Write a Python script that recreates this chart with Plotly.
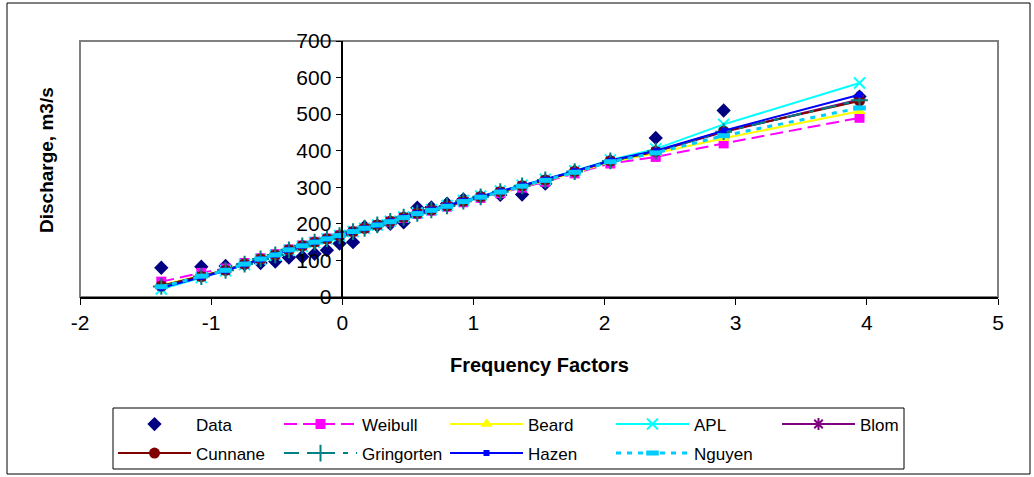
import plotly.graph_objects as go

# ---------------- data ----------------
freq_factors = [-1.38, -1.075, -0.89, -0.745, -0.623, -0.511, -0.407, -0.305, -0.211, -0.117,
                -0.021, 0.082, 0.170, 0.267, 0.366, 0.468, 0.572, 0.679, 0.799, 0.923,
                1.055, 1.205, 1.371, 1.548, 1.772, 2.044, 2.390, 2.908, 3.944]

data_q = [80, 83, 85, 90, 93, 97, 108, 110, 118, 128,
          146, 150, 192, 195, 200, 204, 244, 245, 255, 267,
          274, 279, 280, 310, 343, 372, 435, 510, 548]

weibull = [42, 66, 78, 93, 106, 117, 130, 141, 151, 160,
           169, 179, 188, 197, 206, 216, 227, 236, 247, 259,
           271, 284, 299, 315, 338, 365, 383, 420, 490]
beard = [33, 58, 74, 91, 105, 116, 129, 140, 150, 159,
         168, 179, 188, 197, 206, 217, 228, 237, 248, 261,
         273, 287, 302, 318, 340, 369, 393, 434, 508]
apl = [22, 53, 72, 89, 103, 114, 128, 139, 149, 159,
       168, 179, 188, 197, 207, 219, 230, 239, 250, 264,
       276, 290, 306, 322, 345, 375, 405, 472, 585]
blom = [30, 56, 73, 90, 104, 115, 129, 140, 150, 159,
        168, 179, 188, 197, 207, 218, 229, 238, 249, 262,
        274, 288, 304, 320, 343, 372, 398, 451, 540]
cunnane = [30, 56, 73, 90, 104, 115, 129, 140, 150, 159,
           168, 179, 188, 197, 207, 218, 229, 238, 249, 262,
           274, 288, 304, 320, 343, 372, 398, 453, 536]
gringorten = [29, 56, 73, 90, 104, 115, 129, 140, 150, 159,
              168, 179, 188, 197, 207, 218, 229, 238, 249, 262,
              274, 288, 304, 320, 343, 372, 399, 452, 538]
hazen = [25, 55, 72, 89, 103, 115, 129, 140, 150, 159,
         168, 179, 188, 197, 207, 218, 229, 239, 250, 263,
         275, 289, 305, 321, 344, 373, 400, 455, 553]
nguyen = [28, 57, 73, 90, 104, 115, 129, 140, 150, 159,
          168, 179, 188, 197, 206, 217, 228, 237, 248, 261,
          273, 287, 303, 319, 341, 370, 394, 441, 517]

x_ticks = [-2, -1, 0, 1, 2, 3, 4, 5]
y_ticks = [0, 100, 200, 300, 400, 500, 600, 700]

FONT = "Arial, Liberation Sans, sans-serif"

fig = go.Figure()

fig.add_trace(go.Scatter(x=freq_factors, y=data_q, name="Data", mode="markers",
                         marker=dict(symbol="diamond", size=11, color="#000080"),
                         legend="legend"))
fig.add_trace(go.Scatter(x=freq_factors, y=weibull, name="Weibull", mode="lines+markers",
                         line=dict(color="#FF00FF", width=2, dash="13px,6px"),
                         marker=dict(symbol="square", size=10, color="#FF00FF"),
                         legend="legend"))
fig.add_trace(go.Scatter(x=freq_factors, y=beard, name="Beard", mode="lines+markers",
                         line=dict(color="#FFFF00", width=2),
                         marker=dict(symbol="triangle-up", size=11, color="#FFFF00"),
                         legend="legend"))
fig.add_trace(go.Scatter(x=freq_factors, y=apl, name="APL", mode="lines+markers",
                         line=dict(color="#00FFFF", width=2),
                         marker=dict(symbol="x-thin", size=11, line=dict(color="#00FFFF", width=2)),
                         legend="legend"))
fig.add_trace(go.Scatter(x=freq_factors, y=blom, name="Blom", mode="lines+markers",
                         line=dict(color="#800080", width=2),
                         marker=dict(symbol="asterisk", size=10, line=dict(color="#800080", width=2)),
                         legend="legend"))
fig.add_trace(go.Scatter(x=freq_factors, y=cunnane, name="Cunnane", mode="lines+markers",
                         line=dict(color="#800000", width=2),
                         marker=dict(symbol="circle", size=11, color="#800000"),
                         legend="legend2"))
fig.add_trace(go.Scatter(x=freq_factors, y=gringorten, name="Gringorten", mode="lines+markers",
                         line=dict(color="#008080", width=2, dash="15px,8px,5px,8px"),
                         marker=dict(symbol="cross-thin", size=12, line=dict(color="#008080", width=2)),
                         legend="legend2"))
fig.add_trace(go.Scatter(x=freq_factors, y=hazen, name="Hazen", mode="lines+markers",
                         line=dict(color="#0000FF", width=2),
                         marker=dict(symbol="square", size=6, color="#0000FF"),
                         legend="legend2"))
fig.add_trace(go.Scatter(x=freq_factors, y=nguyen, name="Nguyen", mode="lines+markers",
                         line=dict(color="#00CCFF", width=3, dash="5px,6px"),
                         marker=dict(symbol="line-ew", size=9, line=dict(color="#00CCFF", width=5)),
                         legend="legend2"))

W, H = 1034, 477
L, R, T, B = 80, 36, 41, 180
PW, PH = W - L - R, H - T - B


def px_x(p):
    return (p - L) / PW


def px_y(p):
    return (H - B - p) / PH


legend_common = dict(orientation="h", xanchor="left", yanchor="middle",
                      bgcolor="rgba(0,0,0,0)", borderwidth=0,
                      entrywidth=78, entrywidthmode="pixels", itemwidth=73,
                      font=dict(family=FONT, size=17, color="#000000"))

fig.update_layout(
    width=W, height=H,
    margin=dict(l=L, r=R, t=T, b=B, autoexpand=False),
    paper_bgcolor="white", plot_bgcolor="white",
    font=dict(family=FONT, color="#000000"),
    showlegend=True,
    legend=dict(x=px_x(113), y=px_y(424.5), **legend_common),
    legend2=dict(x=px_x(113), y=px_y(453.5), **legend_common),
    xaxis=dict(range=[-2, 5], tickvals=x_ticks, ticktext=[str(v) for v in x_ticks],
               showgrid=False, zeroline=False, showline=True, linecolor="#000000", linewidth=1.5,
               ticks="outside", ticklen=6, tickcolor="#000000", tickwidth=1,
               tickfont=dict(family=FONT, size=21, color="#000000"), anchor="y"),
    yaxis=dict(range=[0, 700], tickvals=y_ticks, ticktext=[str(v) for v in y_ticks],
               showgrid=False, zeroline=False, showline=True, linecolor="#000000", linewidth=1.5,
               ticks="outside", ticklen=6, tickcolor="#000000", tickwidth=1,
               tickfont=dict(family=FONT, size=21, color="#000000"),
               anchor="free", position=2 / 7),
    shapes=[
        dict(type="rect", xref="paper", yref="paper", x0=0, x1=1, y0=0, y1=1,
             line=dict(color="#808080", width=2), layer="below"),
        dict(type="rect", xref="paper", yref="paper", x0=px_x(113), x1=px_x(904),
             y0=px_y(469), y1=px_y(408), line=dict(color="#000000", width=1)),
        dict(type="rect", xref="paper", yref="paper", x0=px_x(7), x1=px_x(1030),
             y0=px_y(474), y1=px_y(3), line=dict(color="#000000", width=1)),
    ],
    annotations=[
        dict(text="<b>Frequency Factors</b>", xref="paper", yref="paper",
             x=0.5, y=px_y(365), showarrow=False, xanchor="center", yanchor="middle",
             font=dict(family=FONT, size=20, color="#000000")),
        dict(text="<b>Discharge, m3/s</b>", xref="paper", yref="paper",
             x=px_x(46), y=px_y(160), showarrow=False, textangle=-90,
             xanchor="center", yanchor="middle",
             font=dict(family=FONT, size=19, color="#000000")),
    ],
)

fig.write_html("out.html")
